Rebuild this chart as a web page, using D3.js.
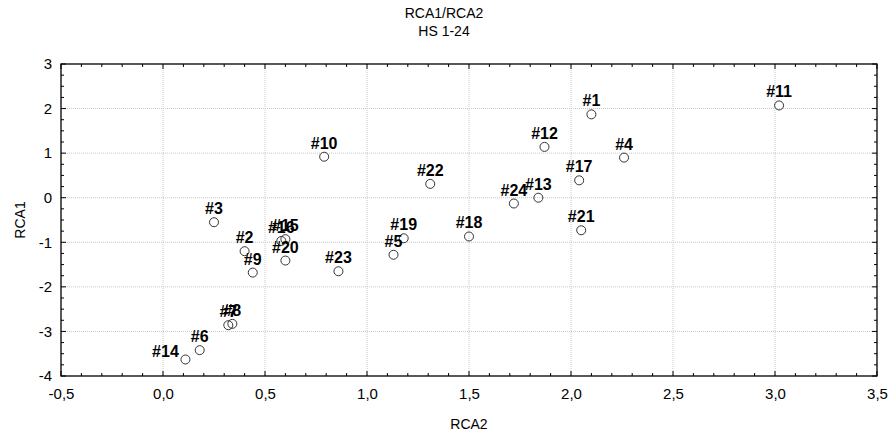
<!DOCTYPE html>
<html><head><meta charset="utf-8">
<script src="https://cdn.jsdelivr.net/npm/d3@7"></script>
<style>body{margin:0;background:#fff}svg{display:block}text{font-family:"Liberation Sans",Arial,sans-serif}</style>
</head><body><svg id="c" width="889" height="434"></svg>
<script>
const labels = ["#1","#2","#3","#4","#5","#6","#7","#8","#9","#10","#11","#12","#13","#14","#15","#16","#17","#18","#19","#20","#21","#22","#23","#24"];
const rca2 = [2.10,0.40,0.25,2.26,1.13,0.18,0.32,0.34,0.44,0.79,3.02,1.87,1.84,0.11,0.60,0.58,2.04,1.50,1.18,0.60,2.05,1.31,0.86,1.72];
const rca1 = [1.87,-1.20,-0.55,0.90,-1.28,-3.42,-2.86,-2.83,-1.68,0.92,2.07,1.14,0.00,-3.63,-0.93,-0.97,0.39,-0.87,-0.91,-1.41,-0.73,0.31,-1.65,-0.13];
const xTicks = [-0.5,0,0.5,1,1.5,2,2.5,3,3.5];
const yTicks = [-4,-3,-2,-1,0,1,2,3];
const fmtX = d => d3.format(".1f")(d).replace("\u2212","-").replace(".", ",");
const fmtY = d => d3.format("d")(d).replace("\u2212","-");

const svg = d3.select("#c");
const L=61,R=877,T=64,B=376;
const x = d3.scaleLinear().domain([-0.5,3.5]).range([L,R]);
const y = d3.scaleLinear().domain([-4,3]).range([B,T]);

// grid
svg.append("g").selectAll("line").data(xTicks.slice(1,-1)).join("line")
  .attr("x1",d=>x(d)).attr("x2",d=>x(d)).attr("y1",T).attr("y2",B)
  .attr("stroke","#c8c8c8").attr("stroke-dasharray","1,1");
svg.append("g").selectAll("line").data(yTicks.slice(1,-1)).join("line")
  .attr("y1",d=>y(d)).attr("y2",d=>y(d)).attr("x1",L).attr("x2",R)
  .attr("stroke","#c8c8c8").attr("stroke-dasharray","1,1");

// minor ticks
const xMinor = d3.range(-5,36).map(i=>i/10);
const yMinor = d3.range(-16,13).map(i=>i/4);
const tk = svg.append("g").attr("stroke","#000");
xMinor.forEach(v=>{
  const len = Math.abs(v*2-Math.round(v*2))<1e-6 ? 5 : 3;
  tk.append("line").attr("x1",x(v)).attr("x2",x(v)).attr("y1",B).attr("y2",B-len);
  tk.append("line").attr("x1",x(v)).attr("x2",x(v)).attr("y1",T).attr("y2",T+len);
});
yMinor.forEach(v=>{
  const len = Math.abs(v-Math.round(v))<1e-6 ? 5 : 3;
  tk.append("line").attr("y1",y(v)).attr("y2",y(v)).attr("x1",L).attr("x2",L+len);
  tk.append("line").attr("y1",y(v)).attr("y2",y(v)).attr("x1",R).attr("x2",R-len);
});

// axes (labels) via d3 axes
const xa = svg.append("g").attr("transform",`translate(0,${B})`)
  .call(d3.axisBottom(x).tickValues(xTicks).tickFormat(fmtX).tickSize(0).tickPadding(12));
const ya = svg.append("g").attr("transform",`translate(${L},0)`)
  .call(d3.axisLeft(y).tickValues(yTicks).tickFormat(fmtY).tickSize(0).tickPadding(9));
[xa,ya].forEach(a=>{a.select(".domain").remove();a.selectAll("text").attr("font-size",15).attr("fill","#000").attr("font-family","Liberation Sans, Arial, sans-serif");});

// frame
svg.append("rect").attr("x",L).attr("y",T).attr("width",R-L).attr("height",B-T)
  .attr("fill","none").attr("stroke","#000").attr("stroke-width",1.3);

// points
const data = labels.map((l,i)=>({l,x:rca2[i],y:rca1[i]}));
svg.append("g").selectAll("circle").data(data).join("circle")
  .attr("cx",d=>x(d.x)).attr("cy",d=>y(d.y)).attr("r",4.5)
  .attr("fill","none").attr("stroke","#333").attr("stroke-width",1);
svg.append("g").selectAll("text").data(data).join("text")
  .attr("x",d=>x(d.x) - (d.l==="#14"?20:0)).attr("y",d=>y(d.y)-(d.l==="#14"?3:8)).attr("text-anchor","middle")
  .attr("font-size",16).attr("font-weight","bold").attr("fill","#000").text(d=>d.l);

// titles
svg.append("text").attr("x",444).attr("y",18).attr("text-anchor","middle").attr("font-size",14).text("RCA1/RCA2");
svg.append("text").attr("x",444).attr("y",36).attr("text-anchor","middle").attr("font-size",14).text("HS 1-24");
svg.append("text").attr("x",469).attr("y",429).attr("text-anchor","middle").attr("font-size",14).text("RCA2");
svg.append("text").attr("transform","translate(25,220) rotate(-90)").attr("text-anchor","middle").attr("font-size",14).text("RCA1");
</script></body></html>
